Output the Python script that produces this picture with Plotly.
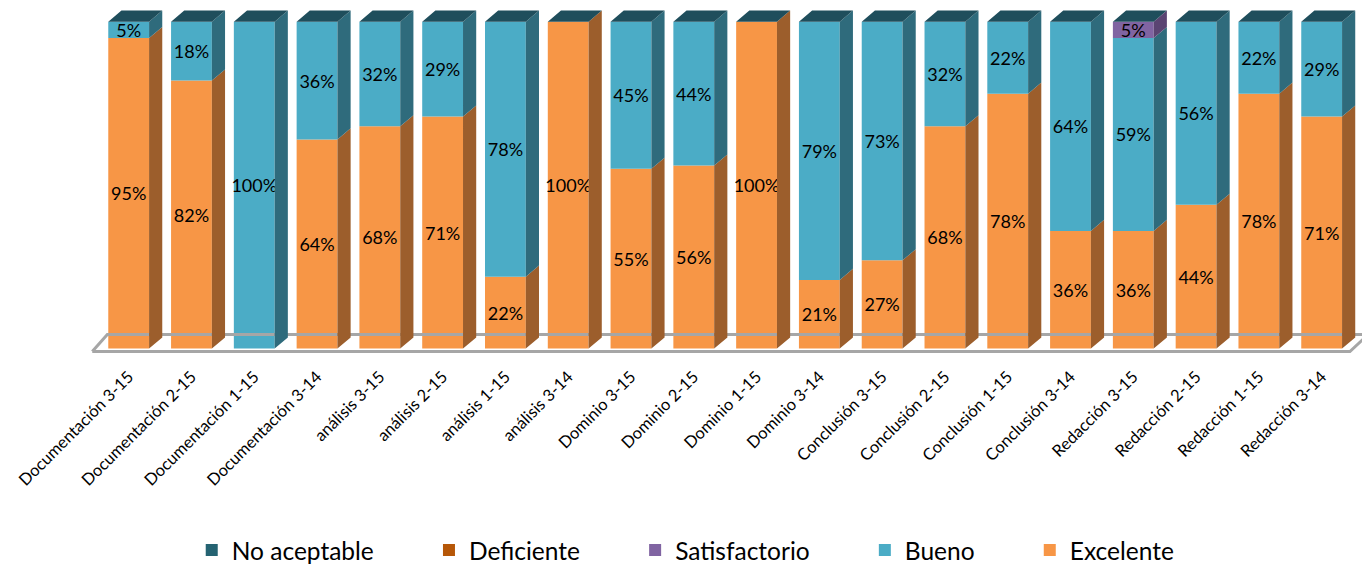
import plotly.graph_objects as go

categories = ["Documentación 3-15", "Documentación 2-15", "Documentación 1-15", "Documentación 3-14",
              "análisis 3-15", "análisis 2-15", "análisis 1-15", "análisis 3-14",
              "Dominio 3-15", "Dominio 2-15", "Dominio 1-15", "Dominio 3-14",
              "Conclusión 3-15", "Conclusión 2-15", "Conclusión 1-15", "Conclusión 3-14",
              "Redacción 3-15", "Redacción 2-15", "Redacción 1-15", "Redacción 3-14"]
excelente = [95, 82, 0, 64, 68, 71, 22, 100, 55, 56, 100, 21, 27, 68, 78, 36, 36, 44, 78, 71]
bueno = [5, 18, 100, 36, 32, 29, 78, 0, 45, 44, 0, 79, 73, 32, 22, 64, 59, 56, 22, 29]
satisfactorio = [0, 0, 0, 0, 0, 0, 0, 0, 0, 0, 0, 0, 0, 0, 0, 0, 5, 0, 0, 0]
deficiente = [0] * 20
no_aceptable = [0] * 20

series = [
    ("Excelente", excelente, "#F79646", "#9C5E2C"),
    ("Bueno", bueno, "#4BACC6", "#2F6B7C"),
    ("Satisfactorio", satisfactorio, "#8064A2", "#5A4472"),
    ("Deficiente", deficiente, "#B65708", "#7A3A05"),
    ("No aceptable", no_aceptable, "#256372", "#1F4E5C"),
]
legend_pad = {"No aceptable": 8, "Deficiente": 8, "Satisfactorio": 8, "Bueno": 8, "Excelente": 0}

FONT = "Lato"
xs = list(range(len(categories)))
W = 0.65      # bar width (axis units)
DX = 0.21     # depth offset x (axis units)
DY = 3.4      # depth offset y (axis units)

fig = go.Figure()

# floor slab
fx = [-0.58, 19.45, 19.74, -0.34, -0.58]
fy = [-0.9, -0.9, 4.3, 4.3, -0.9]
fig.add_trace(go.Scatter(x=fx, y=fy, mode="lines", line=dict(color="#A6A6A6", width=3),
                         showlegend=False, hoverinfo="skip"))

base = [0] * len(categories)
for name, vals, col, side in series:
    texts = [f"{v}%" if v > 0 else "" for v in vals]
    fig.add_trace(go.Bar(
        x=xs, y=vals, base=base, width=W, name=name + "\u00a0" * legend_pad[name],
        marker=dict(color=col, line=dict(width=0)),
        text=texts, textposition="inside", insidetextanchor="middle", textangle=0,
        constraintext="none", textfont=dict(family=FONT, size=18, color="#000000"),
    ))
    # side faces
    sx, sy = [], []
    for i, (b, v) in enumerate(zip(base, vals)):
        if v <= 0:
            continue
        r = i + W / 2
        sx += [r, r + DX, r + DX, r, r, None]
        sy += [b, b + DY, b + v + DY, b + v, b, None]
    if sx:
        fig.add_trace(go.Scatter(x=sx, y=sy, mode="lines", fill="toself", fillcolor=side,
                                 line=dict(width=0, color=side), showlegend=False, hoverinfo="skip"))
    base = [b + v for b, v in zip(base, vals)]

# top faces
tx, ty = [], []
for i, b in enumerate(base):
    l, r = i - W / 2, i + W / 2
    tx += [l, l + DX, r + DX, r, l, None]
    ty += [b, b + DY, b + DY, b, b, None]
fig.add_trace(go.Scatter(x=tx, y=ty, mode="lines", fill="toself", fillcolor="#1F4E5C",
                         line=dict(width=0, color="#1F4E5C"), showlegend=False, hoverinfo="skip"))

fig.update_layout(
    barmode="overlay",
    width=1362, height=557,
    margin=dict(l=83, r=0, t=0, b=210, autoexpand=False),
    plot_bgcolor="white", paper_bgcolor="white",
    font=dict(family=FONT, color="#000000"),
    showlegend=True,
    legend=dict(orientation="h", x=0.465, xanchor="center", y=-0.562, yanchor="middle",
                traceorder="reversed", font=dict(family=FONT, size=24.5, color="#000000")),
    xaxis=dict(range=[-0.6, 19.77], tickvals=xs, ticktext=categories, automargin=False,
               tickangle=-45, tickfont=dict(family=FONT, size=16.5, color="#000000"),
               ticklabelstandoff=8,
               showgrid=False, zeroline=False, showline=False, ticks=""),
    yaxis=dict(range=[-1.97, 104.2], visible=False, showgrid=False, zeroline=False, automargin=False),
)

fig.write_html("out.html")
